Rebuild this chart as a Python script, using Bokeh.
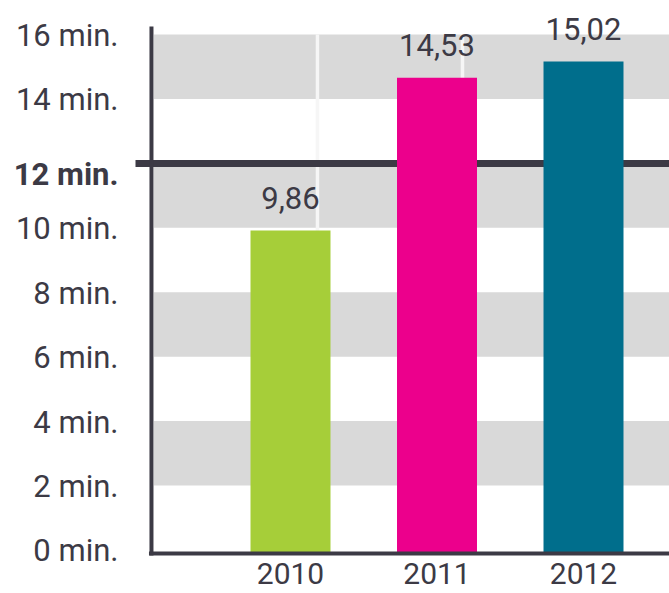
from bokeh.plotting import figure
from bokeh.models import Range1d, Label, LabelSet, ColumnDataSource
from bokeh.core.properties import value
from bokeh.embed import file_html
from bokeh.resources import INLINE

# ---- data ----
years = ["2010", "2011", "2012"]
minutes = [9.86, 14.53, 15.02]
value_labels = ["9,86", "14,53", "15,02"]
bar_colors = ["#a6ce39", "#ec008c", "#006e8c"]
y_ticks = [0, 2, 4, 6, 8, 10, 14, 16]
y_tick_labels = ["0 min.", "2 min.", "4 min.", "6 min.", "8 min.", "10 min.", "14 min.", "16 min."]
band_bottoms = [2, 6, 10, 14]
band_tops = [4, 8, 12, 16]
threshold = 12
threshold_label = "12 min."

# ---- layout constants ----
W, H = 669, 593
X_LEFT, X_RIGHT = -1.9795, 2.587
AXIS_X = -0.949
BAND_LEFT = -0.932
LINE_LEFT = -1.058
AXIS_Y = -0.112
AXIS_TOP = 16.25
AXIS_BOTTOM = -0.174
BAR_W = 0.546
WHITE_LINES = [0.184, 1.174]
DARK = "#3c3a45"
FONT = "Roboto"
FS = "31px"

xs = list(range(len(years)))

p = figure(width=W, height=H, output_backend="svg", toolbar_location=None,
           x_range=Range1d(X_LEFT, X_RIGHT), y_range=Range1d(-1.354, 17.057),
           min_border=0, min_border_left=0, min_border_right=0,
           min_border_top=0, min_border_bottom=0)
p.extra_y_ranges = {"bars": Range1d(-1.221, 16.885)}
p.outline_line_color = None
p.xgrid.visible = False
p.ygrid.visible = False
p.xaxis.visible = False
p.yaxis.visible = False
p.background_fill_color = "white"
p.border_fill_color = "white"

# gray bands
p.quad(left=BAND_LEFT, right=X_RIGHT, bottom=band_bottoms, top=band_tops,
       fill_color="#d9d9d9", line_color=None)
# white vertical lines
p.segment(x0=WHITE_LINES, x1=WHITE_LINES, y0=0, y1=band_tops[-1],
          line_color="#f6f6f6", line_width=3.5)
# threshold line
p.segment(x0=[LINE_LEFT], x1=[X_RIGHT], y0=[threshold], y1=[threshold],
          line_color=DARK, line_width=7)
# bars
src = ColumnDataSource(dict(x=xs, top=minutes, color=bar_colors, label=value_labels))
p.vbar(x="x", top="top", bottom=0, width=BAR_W, fill_color="color",
       line_color=None, source=src, y_range_name="bars")
# axis lines
p.segment(x0=[AXIS_X], x1=[AXIS_X], y0=[AXIS_BOTTOM], y1=[AXIS_TOP], line_color=DARK, line_width=4)
p.segment(x0=[AXIS_X - 0.017], x1=[X_RIGHT], y0=[AXIS_Y], y1=[AXIS_Y], line_color=DARK, line_width=4)

# value labels
p.add_layout(LabelSet(x="x", y="top", text="label", source=src, y_offset=21.5,
                      y_range_name="bars",
                      text_align="center", text_baseline="alphabetic",
                      text_font=value(FONT), text_font_size=value(FS), text_color=DARK))

# y tick labels
ysrc = ColumnDataSource(dict(x=[AXIS_X] * len(y_ticks), y=y_ticks, text=y_tick_labels))
p.add_layout(LabelSet(x="x", y="y", text="text", source=ysrc, x_offset=-33, y_offset=-11.5,
                      text_align="right", text_baseline="alphabetic",
                      text_font=value(FONT), text_font_size=value(FS), text_color=DARK))
p.add_layout(Label(x=AXIS_X, y=threshold, x_offset=-33, y_offset=-11.5, text=threshold_label,
                   text_align="right", text_baseline="alphabetic", text_font=FONT,
                   text_font_size=FS, text_font_style="bold", text_color=DARK))

# x tick labels
xsrc = ColumnDataSource(dict(x=xs, y=[AXIS_Y] * len(xs), text=years))
p.add_layout(LabelSet(x="x", y="y", text="text", source=xsrc, y_offset=-31,
                      text_align="center", text_baseline="alphabetic",
                      text_font=value(FONT), text_font_size=value("30px"), text_color=DARK))

open("out.html", "w").write(file_html(p, INLINE))
